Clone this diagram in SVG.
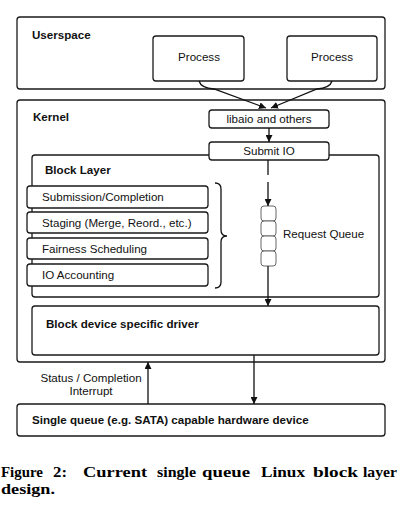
<svg xmlns="http://www.w3.org/2000/svg" width="402" height="505" viewBox="0 0 402 505">
<defs>
<style>
.box{fill:#fff;stroke:#1a1a1a;stroke-width:1.3}
.cell{fill:#fff;stroke:#666;stroke-width:1}
.t{font-family:"Liberation Sans",Arial,sans-serif;font-size:11.6px;fill:#111}
.b{font-family:"Liberation Sans",Arial,sans-serif;font-size:11.6px;font-weight:bold;fill:#111}
.c{font-family:"Liberation Serif","Times New Roman",serif;font-size:14px;font-weight:bold;fill:#000}
.ln{fill:none;stroke:#111;stroke-width:1.3}
</style>
<marker id="ah" viewBox="0 0 10 10" refX="10" refY="5" markerWidth="7" markerHeight="7" markerUnits="userSpaceOnUse" orient="auto">
<path d="M0,0 L10,5 L0,10 z" fill="#111"/>
</marker>
</defs>
<rect width="402" height="505" fill="#fff"/>
<g id="userspace">
<rect class="box" x="17" y="17" width="368" height="72" rx="3"/>
<text class="b" x="32" y="39">Userspace</text>
</g>
<g id="process1">
<rect class="box" x="153" y="36" width="91" height="45" rx="3"/>
<text class="t" x="199" y="61" text-anchor="middle">Process</text>
</g>
<g id="process2">
<rect class="box" x="287" y="36" width="90" height="45" rx="3"/>
<text class="t" x="332" y="61" text-anchor="middle">Process</text>
</g>
<g id="kernel">
<rect class="box" x="17" y="100" width="368" height="262" rx="3"/>
<text class="b" x="33" y="121">Kernel</text>
</g>
<g id="blocklayer">
<rect class="box" x="32" y="155" width="347" height="142" rx="3"/>
<text class="b" x="45" y="174">Block Layer</text>
</g>
<g id="libaio">
<rect class="box" x="209" y="110" width="120" height="18" rx="3"/>
<text class="t" x="269" y="123" text-anchor="middle">libaio and others</text>
</g>
<g id="submitio">
<rect class="box" x="209" y="142" width="120" height="18" rx="3"/>
<text class="t" x="269" y="155" text-anchor="middle">Submit IO</text>
</g>
<g id="submission">
<rect class="box" x="27" y="186" width="181" height="22" rx="3"/>
<text class="t" x="42" y="201">Submission/Completion</text>
</g>
<g id="staging">
<rect class="box" x="27" y="212" width="181" height="21" rx="3"/>
<text class="t" x="42" y="227">Staging (Merge, Reord., etc.)</text>
</g>
<g id="fairness">
<rect class="box" x="27" y="238" width="181" height="21" rx="3"/>
<text class="t" x="42" y="253">Fairness Scheduling</text>
</g>
<g id="ioaccounting">
<rect class="box" x="27" y="264" width="181" height="22" rx="3"/>
<text class="t" x="42" y="279">IO Accounting</text>
</g>
<g id="brace">
<path class="ln" d="M215,183 Q221,183 221,189 L221,230 Q221,236 227,236 Q221,236 221,242 L221,282 Q221,288 215,288"/>
</g>
<g id="requestqueue">
<rect class="cell" x="261" y="206" width="15" height="15" rx="3"/>
<rect class="cell" x="261" y="221" width="15" height="15" rx="3"/>
<rect class="cell" x="261" y="236" width="15" height="15" rx="3"/>
<rect class="cell" x="261" y="251" width="15" height="15" rx="3"/>
<text class="t" x="283" y="238">Request Queue</text>
</g>
<g id="driver">
<rect class="box" x="32" y="306" width="347" height="49" rx="3"/>
<text class="b" x="46" y="328">Block device specific driver</text>
</g>
<g id="hardware">
<rect class="box" x="17" y="404" width="368" height="32" rx="3"/>
<text class="b" x="32" y="424">Single queue (e.g. SATA) capable hardware device</text>
</g>
<g id="connectors">
<path class="ln" d="M199,81 Q201,88 214,89 L266,108" marker-end="url(#ah)"/>
<path class="ln" d="M332,81 Q330,88 317,89 L271,108" marker-end="url(#ah)"/>
<path class="ln" d="M269,128 L269,142" marker-end="url(#ah)"/>
<path class="ln" d="M268,160 L268,175"/>
<path class="ln" d="M268,182 L268,206" marker-end="url(#ah)"/>
<path class="ln" d="M268,266 L268,306" marker-end="url(#ah)"/>
<path class="ln" d="M254,355 L254,404" marker-end="url(#ah)"/>
<path class="ln" d="M148,404 L148,362" marker-end="url(#ah)"/>
<text class="t" x="91" y="382" text-anchor="middle">Status / Completion</text>
<text class="t" x="91" y="395" text-anchor="middle">Interrupt</text>
</g>
<g id="caption">
<text class="c" y="477"><tspan x="1" textLength="42" lengthAdjust="spacingAndGlyphs">Figure</tspan><tspan x="53" textLength="14" lengthAdjust="spacingAndGlyphs">2:</tspan><tspan x="83" textLength="64" lengthAdjust="spacingAndGlyphs">Current</tspan><tspan x="157" textLength="39" lengthAdjust="spacingAndGlyphs">single</tspan><tspan x="202" textLength="48" lengthAdjust="spacingAndGlyphs">queue</tspan><tspan x="261" textLength="44" lengthAdjust="spacingAndGlyphs">Linux</tspan><tspan x="313" textLength="45" lengthAdjust="spacingAndGlyphs">block</tspan><tspan x="363" textLength="34" lengthAdjust="spacingAndGlyphs">layer</tspan></text>
<text class="c" x="1" y="494" textLength="54" lengthAdjust="spacingAndGlyphs">design.</text>
</g>
</svg>
